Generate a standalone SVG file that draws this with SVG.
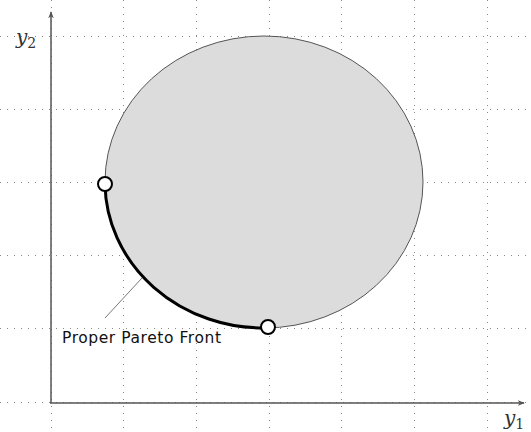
<svg xmlns="http://www.w3.org/2000/svg" width="531" height="432" viewBox="0 0 531 432">
<defs>
<style>
.grid{stroke:#888;stroke-width:1;stroke-dasharray:1 6;fill:none}
.axis{stroke:#555;stroke-width:1.5;fill:none}
.lbl{font-family:"DejaVu Serif","Liberation Serif",serif;font-style:italic;font-size:20px;fill:#333}
.sub{font-style:normal;font-size:14px}
.txt{font-family:"DejaVu Sans","Liberation Sans",sans-serif;font-size:15.5px;fill:#111}
.pt{fill:#fff;stroke:#000;stroke-width:2}
</style>
<marker id="arr" viewBox="0 0 10 10" refX="9" refY="5" markerWidth="7" markerHeight="7" orient="auto" markerUnits="userSpaceOnUse">
<path d="M0,1 L10,5 L0,9 L3,5 Z" fill="#555"/>
</marker>
</defs>
<rect width="531" height="432" fill="#fff"/>
<g id="grid">
<path class="grid" d="M0,36.5H531M0,109.5H531M0,182.5H531M0,255.5H531M0,328.5H531M0,402.5H531"/>
<path class="grid" d="M51.5,0V432M123.5,0V432M196.5,0V432M269.5,0V432M341.5,0V432M414.5,0V432M487.5,0V432"/>
</g>
<g id="region">
<ellipse cx="264" cy="182" rx="159" ry="146" fill="#dcdcdc" stroke="#555" stroke-width="1"/>
</g>
<g id="axes">
<line class="axis" x1="51" y1="403" x2="51" y2="12" marker-end="url(#arr)"/>
<line class="axis" x1="50" y1="403" x2="524" y2="403" marker-end="url(#arr)"/>
<text class="lbl" x="16" y="44">y<tspan class="sub" dy="4">2</tspan></text>
<text class="lbl" x="504" y="425">y<tspan class="sub" dy="4">1</tspan></text>
</g>
<g id="connectors">
<line x1="105" y1="318" x2="142" y2="278" stroke="#777" stroke-width="1"/>
</g>
<g id="front">
<path d="M105,184 A159,146 0 0 0 268,328" fill="none" stroke="#000" stroke-width="3"/>
<text class="txt" x="62" y="343" textLength="159" lengthAdjust="spacing">Proper Pareto Front</text>
</g>
<g id="point-left"><circle class="pt" cx="105" cy="184" r="7"/></g>
<g id="point-bottom"><circle class="pt" cx="268" cy="327" r="7"/></g>
</svg>
